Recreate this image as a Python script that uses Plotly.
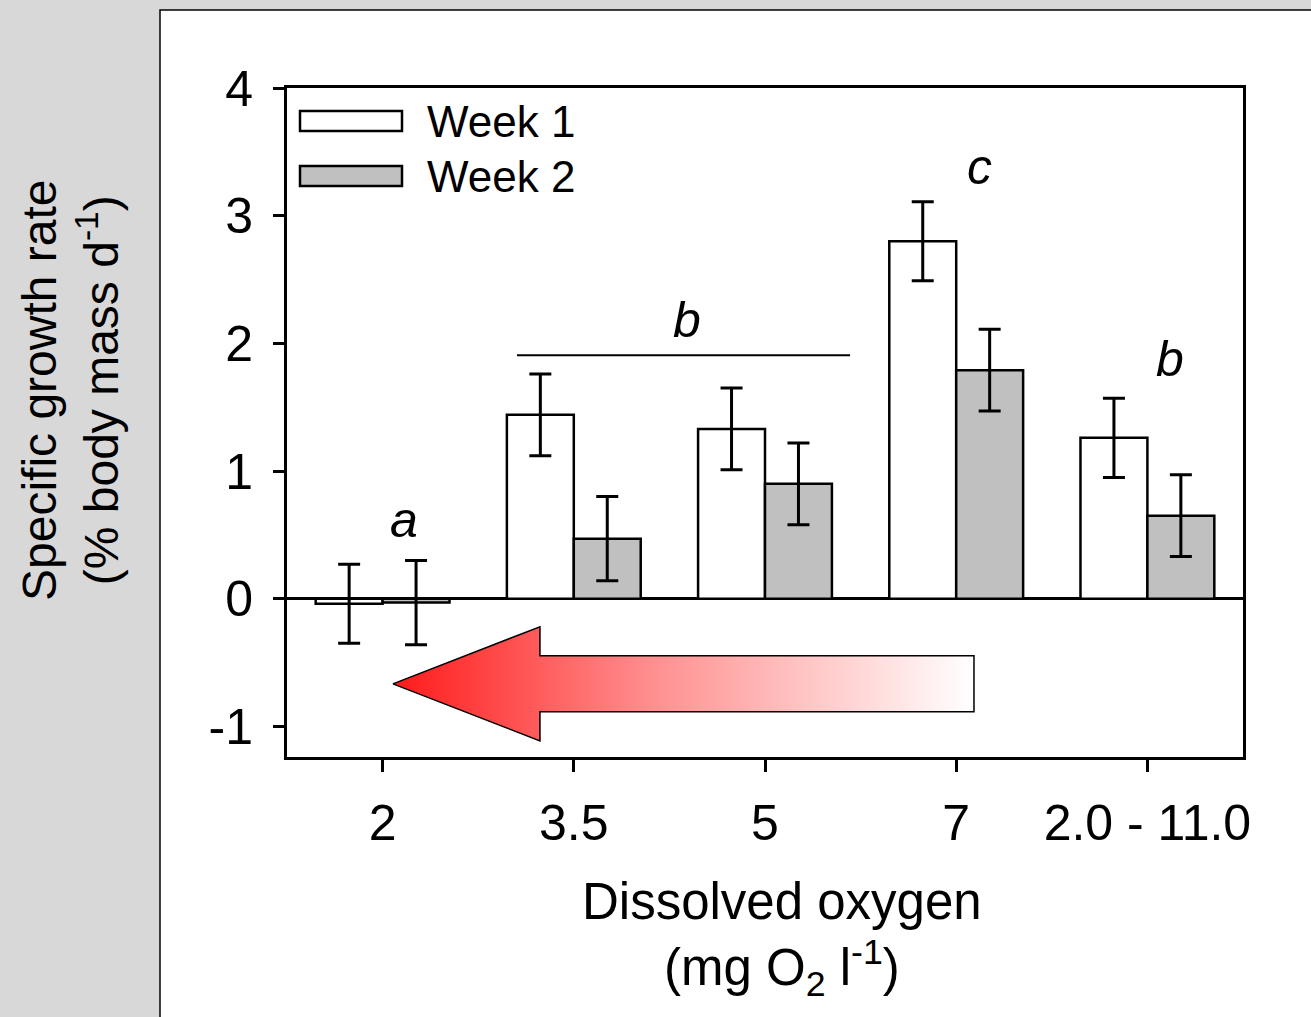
import plotly.graph_objects as go

categories = ["2", "3.5", "5", "7", "2.0 - 11.0"]
week1 = [-0.04, 1.44, 1.33, 2.80, 1.26]
week1_err = [0.31, 0.32, 0.32, 0.31, 0.31]
week2 = [-0.03, 0.47, 0.90, 1.79, 0.65]
week2_err = [0.33, 0.33, 0.32, 0.32, 0.32]
y_ticks = [-1, 0, 1, 2, 3, 4]
y_ticklabels = ["-1", "0", "1", "2", "3", "4"]
letters = ["a", "b", "c", "b"]
letter_x = [0.11, 1.59, 3.12, 4.12]
letter_y = [0.62, 2.18, 3.38, 1.88]
# decorative arrow outline (data units)
arrow_x = [0.054, 0.823, 0.823, 3.093, 3.093, 0.823, 0.823, 0.054]
arrow_y = [-0.667, -0.22, -0.447, -0.447, -0.886, -0.886, -1.114, -0.667]

xpos = list(range(len(categories)))
FONT = "Liberation Sans, Arial, sans-serif"

fig = go.Figure()
fig.add_trace(go.Scatter(
    x=arrow_x, y=arrow_y, mode="lines", fill="toself",
    line=dict(color="black", width=1.5),
    fillgradient=dict(type="horizontal",
                      colorscale=[[0, "#ff1a1a"], [0.45, "#ff9090"], [1, "#ffffff"]]),
    showlegend=False, hoverinfo="skip"))
fig.add_trace(go.Bar(
    x=xpos, y=week1, name="Week 1",
    marker=dict(color="white", line=dict(color="black", width=2.5)),
    error_y=dict(type="data", array=week1_err, color="black", thickness=3, width=11)))
fig.add_trace(go.Bar(
    x=xpos, y=week2, name="Week 2",
    marker=dict(color="#c0c0c0", line=dict(color="black", width=2.5)),
    error_y=dict(type="data", array=week2_err, color="black", thickness=3, width=11)))

shapes = [
    # white panel
    dict(type="rect", xref="paper", yref="paper",
         x0=(160 - 287) / 956, x1=1.2, y0=-0.5, y1=(757 - 10) / 669,
         fillcolor="white", line=dict(color="black", width=1.5), layer="below"),
    # significance line
    dict(type="line", xref="x", yref="y", x0=0.703, x1=2.445, y0=1.906, y1=1.906,
         line=dict(color="black", width=2)),
    # legend boxes
    dict(type="rect", xref="paper", yref="paper",
         x0=(300 - 287) / 956, x1=(402 - 287) / 956,
         y0=(757 - 131) / 669, y1=(757 - 111) / 669,
         fillcolor="white", line=dict(color="black", width=2.5)),
    dict(type="rect", xref="paper", yref="paper",
         x0=(300 - 287) / 956, x1=(402 - 287) / 956,
         y0=(757 - 186) / 669, y1=(757 - 166) / 669,
         fillcolor="#c0c0c0", line=dict(color="black", width=2.5)),
]

annotations = []
for t, lx, ly in zip(letters, letter_x, letter_y):
    annotations.append(dict(x=lx, y=ly, xref="x", yref="y", text=f"<i>{t}</i>",
                            showarrow=False, font=dict(size=50, color="black", family=FONT)))
for name, py in [("Week 1", 121), ("Week 2", 176)]:
    annotations.append(dict(x=(425 - 287) / 956, y=(757 - py) / 669, xref="paper", yref="paper",
                            text=name, showarrow=False, xanchor="left", yanchor="middle",
                            font=dict(size=44, color="black", family=FONT)))
annotations.append(dict(x=(782 - 287) / 956, y=(757 - 938) / 669, xref="paper", yref="paper",
                        text="Dissolved oxygen<br>(mg O<sub>2</sub> l<sup>-1</sup>)",
                        showarrow=False, xanchor="center", yanchor="middle",
                        font=dict(size=51, color="black", family=FONT)))
annotations.append(dict(x=(70 - 287) / 956, y=(757 - 390) / 669, xref="paper", yref="paper",
                        text="Specific growth rate<br>(% body mass d<sup>-1</sup>)",
                        textangle=-90, showarrow=False, xanchor="center", yanchor="middle",
                        font=dict(size=48, color="black", family=FONT)))

fig.update_layout(
    width=1311, height=1017,
    margin=dict(l=287, r=68, t=88, b=260),
    paper_bgcolor="#d8d8d8", plot_bgcolor="rgba(0,0,0,0)",
    barmode="group", bargap=0.3, bargroupgap=0,
    showlegend=False,
    font=dict(family=FONT, color="black"),
    shapes=shapes, annotations=annotations,
    xaxis=dict(range=[-0.5, 4.5], tickvals=xpos, ticktext=categories,
               showgrid=False, zeroline=False, showline=True, linecolor="black", linewidth=3,
               mirror=True, ticks="outside", ticklen=12, tickwidth=2.5, tickcolor="black",
               tickfont=dict(size=50, family=FONT), ticklabelstandoff=8),
    yaxis=dict(range=[-1.24, 4], tickvals=y_ticks, ticktext=y_ticklabels,
               showgrid=False, zeroline=True, zerolinecolor="black", zerolinewidth=2.5,
               showline=True, linecolor="black", linewidth=3, mirror=True,
               ticks="outside", ticklen=11, tickwidth=2.5, tickcolor="black",
               tickfont=dict(size=50, family=FONT), ticklabelstandoff=10),
)

fig.write_html("out.html")
